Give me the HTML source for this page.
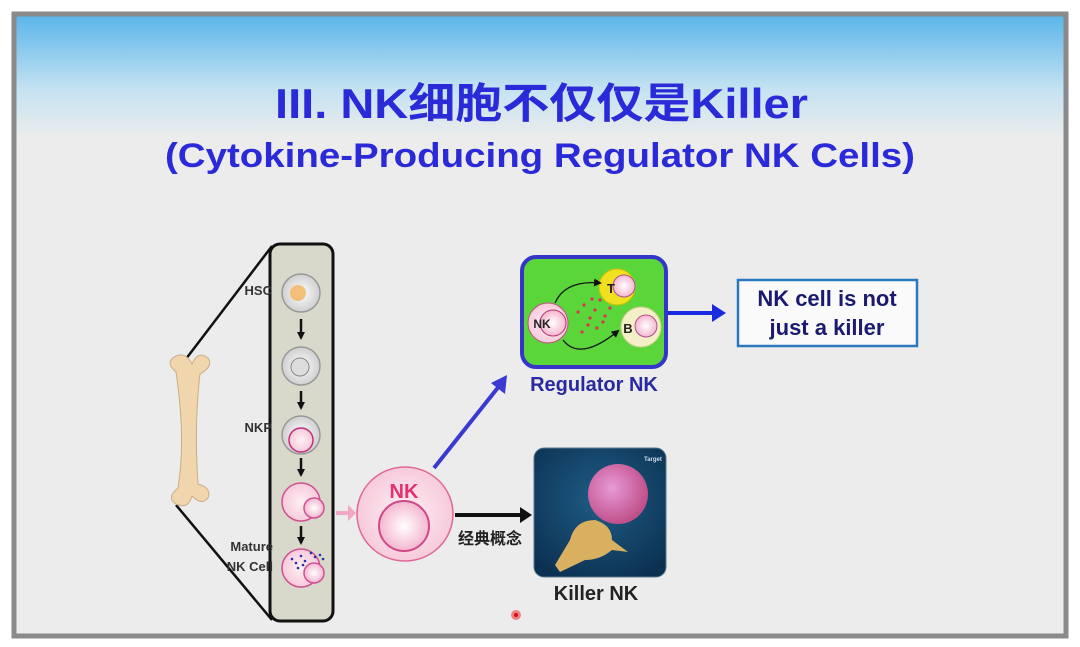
<!DOCTYPE html>
<html><head><meta charset="utf-8"><style>
html,body{margin:0;padding:0;width:1080px;height:647px;overflow:hidden;background:#fff}
svg{display:block}
text{font-family:"Liberation Sans","Noto Sans CJK SC",sans-serif;font-weight:bold}
</style></head><body>
<svg width="1080" height="647" viewBox="0 0 1080 647">
<defs>
<linearGradient id="bg" x1="0" y1="0" x2="0" y2="1">
<stop offset="0" stop-color="#58b4ea"/><stop offset="0.12" stop-color="#c4e2f2"/><stop offset="0.2" stop-color="#ececec"/><stop offset="1" stop-color="#ececec"/>
</linearGradient>
<radialGradient id="pk" cx="0.5" cy="0.5" r="0.5"><stop offset="0" stop-color="#fff"/><stop offset="1" stop-color="#f4b6cf"/></radialGradient>
<radialGradient id="pk2" cx="0.5" cy="0.5" r="0.5"><stop offset="0" stop-color="#fdf0f4"/><stop offset="1" stop-color="#f7cadb"/></radialGradient>
<radialGradient id="gr" cx="0.5" cy="0.5" r="0.5"><stop offset="0" stop-color="#fff"/><stop offset="1" stop-color="#cfcfcf"/></radialGradient>
<radialGradient id="img" cx="0.5" cy="0.4" r="0.7"><stop offset="0" stop-color="#1f5c86"/><stop offset="1" stop-color="#0b3050"/></radialGradient>
<radialGradient id="tg" cx="0.4" cy="0.4" r="0.6"><stop offset="0" stop-color="#e89ad8"/><stop offset="1" stop-color="#c0508a"/></radialGradient>
<marker id="ab" markerWidth="8" markerHeight="8" refX="6" refY="4" orient="auto" markerUnits="userSpaceOnUse"><path d="M0,0 L8,4 L0,8z" fill="#111"/></marker>
</defs>
<rect x="0" y="0" width="1080" height="647" fill="#fff"/>
<rect x="14" y="14" width="1052" height="622" fill="url(#bg)" stroke="#8a8a8a" stroke-width="5"/>
<text x="275" y="118" font-size="42" fill="#2a2ad8" textLength="533" lengthAdjust="spacingAndGlyphs">III. NK细胞不仅仅是Killer</text>
<text x="165" y="167" font-size="34" fill="#2a2ad8" textLength="750" lengthAdjust="spacingAndGlyphs">(Cytokine-Producing Regulator NK Cells)</text>

<line x1="176" y1="372" x2="272" y2="246" stroke="#111" stroke-width="2.5"/>
<line x1="176" y1="505" x2="272" y2="620" stroke="#111" stroke-width="2.5"/>
<path d="M176,372 q-12,-10 0,-16 q10,-4 16,8 q6,-14 16,-6 q6,8 -8,16 q-6,50 -2,110 q14,4 10,14 q-6,8 -16,-2 q-4,14 -16,8 q-10,-6 2,-16 q8,-50 -2,-116z" fill="#f1d5ad" stroke="#c9ad86" stroke-width="1"/>

<rect x="270" y="244" width="63" height="377" rx="10" fill="#d9d9cb" stroke="#111" stroke-width="3"/>
<circle cx="301" cy="293" r="19" fill="url(#gr)" stroke="#999" stroke-width="1.5"/>
<circle cx="298" cy="293" r="8" fill="#f3b25a" opacity="0.8"/>
<circle cx="301" cy="366" r="19" fill="url(#gr)" stroke="#999" stroke-width="1.5"/>
<circle cx="300" cy="367" r="9" fill="#ddd" stroke="#888"/>
<circle cx="301" cy="435" r="19" fill="url(#gr)" stroke="#999" stroke-width="1.5"/>
<circle cx="301" cy="440" r="12" fill="url(#pk2)" stroke="#c0307a" stroke-width="1.5"/>
<circle cx="301" cy="502" r="19" fill="url(#pk2)" stroke="#d05090" stroke-width="1.5"/>
<circle cx="314" cy="508" r="10" fill="url(#pk)" stroke="#d05090" stroke-width="1.5"/>
<circle cx="301" cy="568" r="19" fill="url(#pk2)" stroke="#d05090" stroke-width="1.5"/>
<circle cx="314" cy="573" r="10" fill="url(#pk)" stroke="#d05090" stroke-width="1.5"/>
<g fill="#2233aa"><circle cx="292" cy="559" r="1.3"/><circle cx="296" cy="563" r="1.3"/><circle cx="301" cy="556" r="1.3"/><circle cx="305" cy="561" r="1.3"/><circle cx="311" cy="553" r="1.3"/><circle cx="315" cy="557" r="1.3"/><circle cx="320" cy="555" r="1.3"/><circle cx="323" cy="559" r="1.3"/><circle cx="298" cy="568" r="1.3"/><circle cx="303" cy="565" r="1.3"/></g>
<g stroke="#111" stroke-width="2.5" marker-end="url(#ab)">
<line x1="301" y1="319" x2="301" y2="338"/><line x1="301" y1="391" x2="301" y2="408"/><line x1="301" y1="458" x2="301" y2="475"/><line x1="301" y1="526" x2="301" y2="543"/></g>
<g font-size="13" fill="#333" text-anchor="end">
<text x="272" y="295">HSC</text><text x="272" y="432">NKP</text><text x="273" y="551">Mature</text><text x="273" y="571">NK Cell</text></g>

<path d="M336,513 L352,513" stroke="#f3a6c3" stroke-width="4"/><path d="M348,505 L356,513 L348,521z" fill="#f3a6c3"/>
<ellipse cx="405" cy="514" rx="48" ry="47" fill="url(#pk2)" stroke="#e06898" stroke-width="1.5"/>
<circle cx="404" cy="526" r="25" fill="url(#pk)" stroke="#d04888" stroke-width="2"/>
<text x="404" y="498" font-size="20" fill="#e23070" text-anchor="middle">NK</text>
<line x1="455" y1="515" x2="522" y2="515" stroke="#111" stroke-width="4"/><path d="M520,507 L532,515 L520,523z" fill="#111"/>
<text x="490" y="544" font-size="16" fill="#222" text-anchor="middle">经典概念</text>
<line x1="434" y1="468" x2="500" y2="385" stroke="#3a3ad0" stroke-width="4"/><path d="M507,375 L505,394 L491,383z" fill="#3a3ad0"/>

<rect x="522" y="257" width="144" height="110" rx="14" fill="#5bd63a" stroke="#3535c8" stroke-width="4"/>
<circle cx="548" cy="323" r="20" fill="url(#pk2)" stroke="#c05080" stroke-width="1"/>
<circle cx="553" cy="323" r="13" fill="url(#pk)" stroke="#b03070" stroke-width="1"/>
<text x="542" y="328" font-size="12" fill="#222" text-anchor="middle">NK</text>
<circle cx="617" cy="287" r="18" fill="#f0e020" stroke="#d0c000"/>
<circle cx="624" cy="286" r="11" fill="url(#pk)" stroke="#b05090"/>
<text x="611" y="293" font-size="13" fill="#222" text-anchor="middle">T</text>
<circle cx="641" cy="327" r="20" fill="#f3f0c8" stroke="#d0cc90"/>
<circle cx="646" cy="326" r="11" fill="url(#pk)" stroke="#b05090"/>
<text x="628" y="333" font-size="13" fill="#222" text-anchor="middle">B</text>
<path d="M555,303 Q565,280 600,283" fill="none" stroke="#111" stroke-width="1.3" marker-end="url(#ab)"/>
<path d="M563,340 Q580,362 618,331" fill="none" stroke="#111" stroke-width="1.3" marker-end="url(#ab)"/>
<g fill="#e23050"><circle cx="578" cy="312" r="1.6"/><circle cx="584" cy="305" r="1.6"/><circle cx="590" cy="318" r="1.6"/><circle cx="595" cy="310" r="1.6"/><circle cx="600" cy="300" r="1.6"/><circle cx="605" cy="316" r="1.6"/><circle cx="588" cy="325" r="1.6"/><circle cx="597" cy="328" r="1.6"/><circle cx="610" cy="308" r="1.6"/><circle cx="582" cy="332" r="1.6"/><circle cx="603" cy="322" r="1.6"/><circle cx="592" cy="299" r="1.6"/></g>
<text x="594" y="391" font-size="20" fill="#2a2aa0" text-anchor="middle">Regulator NK</text>
<line x1="668" y1="313" x2="715" y2="313" stroke="#1a2ae0" stroke-width="4"/><path d="M712,304 L726,313 L712,322z" fill="#1a2ae0"/>
<rect x="738" y="280" width="179" height="66" fill="#fafafa" stroke="#2a78c0" stroke-width="2.5"/>
<text x="827" y="306" font-size="22" fill="#1a1a70" text-anchor="middle">NK cell is not</text>
<text x="827" y="335" font-size="22" fill="#1a1a70" text-anchor="middle">just a killer</text>

<rect x="534" y="448" width="132" height="129" rx="10" fill="url(#img)" stroke="#5a7a90" stroke-width="1"/>
<circle cx="618" cy="494" r="30" fill="url(#tg)"/>
<path d="M555,565 L570,540 Q575,520 595,520 Q612,525 612,540 L628,552 L612,550 Q600,560 585,560 L560,572z" fill="#d9b060"/>
<text x="644" y="461" font-size="6" fill="#cde" font-weight="normal">Target</text>
<text x="596" y="600" font-size="20" fill="#222" text-anchor="middle">Killer NK</text>
<circle cx="516" cy="615" r="5" fill="#f08080"/><circle cx="516" cy="615" r="2" fill="#d01010"/>
</svg>
</body></html>
